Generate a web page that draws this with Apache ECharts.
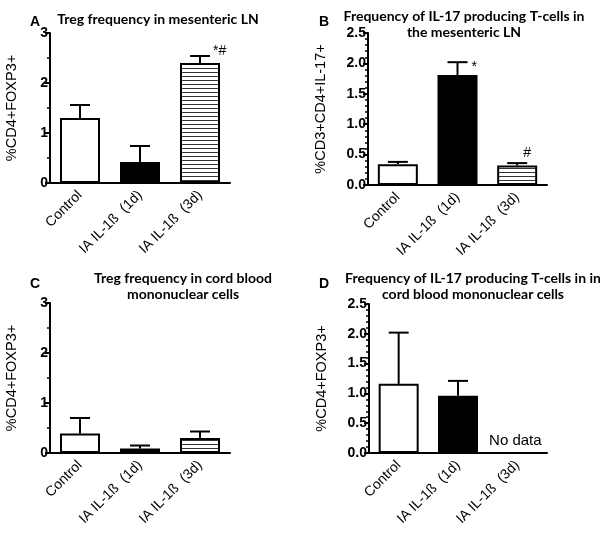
<!DOCTYPE html>
<html><head><meta charset="utf-8">
<script src="https://cdn.jsdelivr.net/npm/echarts@6/dist/echarts.min.js"></script>
<style>html,body{margin:0;padding:0;background:#fff}#c{width:600px;height:534px}</style>
</head><body><div id="c"></div>
<script>
const categories = ['Control', 'IA IL-1\u00df  (1d)', 'IA IL-1\u00df  (3d)'];
const meanA = [1.30, 0.42, 2.40];
const semA  = [0.26, 0.32, 0.14];
const meanB = [0.34, 1.81, 0.32];
const semB  = [0.04, 0.21, 0.04];
const meanC = [0.39, 0.09, 0.30];
const semC  = [0.31, 0.06, 0.13];
const meanD = [1.16, 0.96, null];
const semD  = [0.86, 0.25, null];
const notesA = ['', '', '*#'];
const notesB = ['', '*', '#'];
const notesC = ['', '', ''];
const notesD = ['', '', 'No data'];
const ticksAC = [0, 1, 2, 3];
const ticksBD = [0, 0.5, 1.0, 1.5, 2.0, 2.5];
const titles = [
  'Treg frequency in mesenteric LN',
  'Frequency of IL-17 producing T-cells in\nthe mesenteric LN',
  'Treg frequency in cord blood\nmononuclear cells',
  'Frequency of IL-17 producing T-cells in in\ncord blood mononuclear cells'
];
const letters = ['A', 'B', 'C', 'D'];
const yNames = ['%CD4+FOXP3+', '%CD3+CD4+IL-17+', '%CD4+FOXP3+', '%CD4+FOXP3+'];

const ARIAL = '"Liberation Sans", Arial, sans-serif';

// stripe pattern
const stripe = document.createElement('canvas');
stripe.width = 4; stripe.height = 4;
const sctx = stripe.getContext('2d');
sctx.fillStyle = '#fff'; sctx.fillRect(0, 0, 4, 4);
sctx.fillStyle = '#333'; sctx.fillRect(0, 0, 4, 1);
const fills = ['#ffffff', '#000000', { image: stripe, repeat: 'repeat' }];

const panels = [
  { mean: meanA, sem: semA, notes: notesA, ticks: ticksAC, grid: { left: 50, top: 33, width: 180, height: 150 }, nameGap: 31, titleX: 153, titleTop: 6, letterX: 25, letterTop: 10 },
  { mean: meanB, sem: semB, notes: notesB, ticks: ticksBD, grid: { left: 368, top: 33, width: 179, height: 152 }, nameGap: 40, titleX: 459, titleTop: 3, letterX: 314, letterTop: 10 },
  { mean: meanC, sem: semC, notes: notesC, ticks: ticksAC, grid: { left: 50, top: 303, width: 180, height: 150 }, nameGap: 31, titleX: 178, titleTop: 265, letterX: 25, letterTop: 272 },
  { mean: meanD, sem: semD, notes: notesD, ticks: ticksBD, grid: { left: 369, top: 304, width: 178, height: 149 }, nameGap: 40, titleX: 468, titleTop: 265, letterX: 314, letterTop: 272 }
];
const notePos = {
  '*#': { dx: 13, dy: 2, align: 'left', vAlign: 'bottom' },
  '*': { dx: 14, dy: -2, align: 'left', vAlign: 'top' },
  '#': { dx: 10, dy: -3, align: 'center', vAlign: 'bottom' }
};

const option = { animation: false, title: [], grid: [], xAxis: [], yAxis: [], series: [] };
panels.forEach((p, k) => {
  const ticks = p.ticks;
  const maxV = ticks[ticks.length - 1];
  const step = ticks[1] - ticks[0];
  const isDec = step < 1;
  option.title.push({ text: titles[k], left: p.titleX, top: p.titleTop, textAlign: 'center',
    textStyle: { fontFamily: 'Lato', fontWeight: 'bold', fontSize: 14, lineHeight: 16, color: '#000' } });
  option.title.push({ text: letters[k], left: p.letterX, top: p.letterTop,
    textStyle: { fontFamily: ARIAL, fontWeight: 'bold', fontSize: 14, color: '#000' } });
  option.grid.push(p.grid);
  option.xAxis.push({
    type: 'category', gridIndex: k, data: categories, boundaryGap: true,
    axisLine: { lineStyle: { color: '#000', width: 2 } },
    axisTick: { alignWithLabel: true, length: 5, lineStyle: { color: '#000', width: 2 } },
    axisLabel: { rotate: 45, margin: 10, fontFamily: ARIAL, fontSize: 14, color: '#000', interval: 0 },
    splitLine: { show: false }
  });
  option.yAxis.push({
    type: 'value', gridIndex: k, min: 0, max: maxV, interval: step,
    name: yNames[k], nameLocation: 'middle', nameGap: p.nameGap, nameRotate: 90,
    nameTextStyle: { fontFamily: ARIAL, fontSize: 14.5, color: '#000' },
    axisLine: { show: true, lineStyle: { color: '#000', width: 2 } },
    axisTick: { show: true, length: 5, lineStyle: { color: '#000', width: 2 } },
    minorTick: { show: true, splitNumber: isDec ? 5 : 2, length: 3, lineStyle: { color: '#000', width: 1.5 } },
    axisLabel: { margin: 2, fontFamily: ARIAL, fontWeight: 'bold', fontSize: 14, color: '#000',
      formatter: v => isDec ? v.toFixed(1) : String(v) },
    splitLine: { show: false }
  });
  option.series.push({
    type: 'bar', xAxisIndex: k, yAxisIndex: k, barWidth: 40,
    data: p.mean.map((v, i) => ({ value: v == null ? '-' : v, itemStyle: { color: fills[i], borderColor: '#000', borderWidth: 2 } }))
  });
  const notes = p.notes;
  option.series.push({
    type: 'custom', xAxisIndex: k, yAxisIndex: k, z: 5,
    data: p.mean.map((v, i) => [i, v == null ? 0 : v, p.sem[i] == null ? 0 : p.sem[i], v == null ? 0 : 1]),
    encode: { x: 0, y: 1 },
    renderItem: (params, api) => {
      const i = api.value(0), m = api.value(1), s = api.value(2), has = api.value(3);
      const children = [];
      const note = notes[i];
      const st = { stroke: '#000', lineWidth: 2 };
      if (has) {
        const base = api.coord([i, m]);
        const top = api.coord([i, m + s]);
        if (s > 0) {
          children.push({ type: 'line', shape: { x1: base[0], y1: base[1], x2: top[0], y2: top[1] }, style: st });
          children.push({ type: 'line', shape: { x1: top[0] - 10, y1: top[1], x2: top[0] + 10, y2: top[1] }, style: st });
        }
        if (note) {
          const np = notePos[note];
          children.push({ type: 'text', x: top[0] + np.dx, y: top[1] + np.dy,
            style: { text: note, fill: '#000', font: '14px "Liberation Sans", Arial', textAlign: np.align, textVerticalAlign: np.vAlign } });
        }
      } else if (note) {
        const p0 = api.coord([i, 0]);
        children.push({ type: 'text', x: p0[0] - 2, y: p0[1] - 5,
          style: { text: note, fill: '#000', font: '15px "Liberation Sans", Arial', textAlign: 'center', textVerticalAlign: 'bottom' } });
      }
      return { type: 'group', children };
    }
  });
});

const chart = echarts.init(document.getElementById('c'), null, { renderer: 'canvas' });
chart.setOption(option);
</script>
</body></html>
